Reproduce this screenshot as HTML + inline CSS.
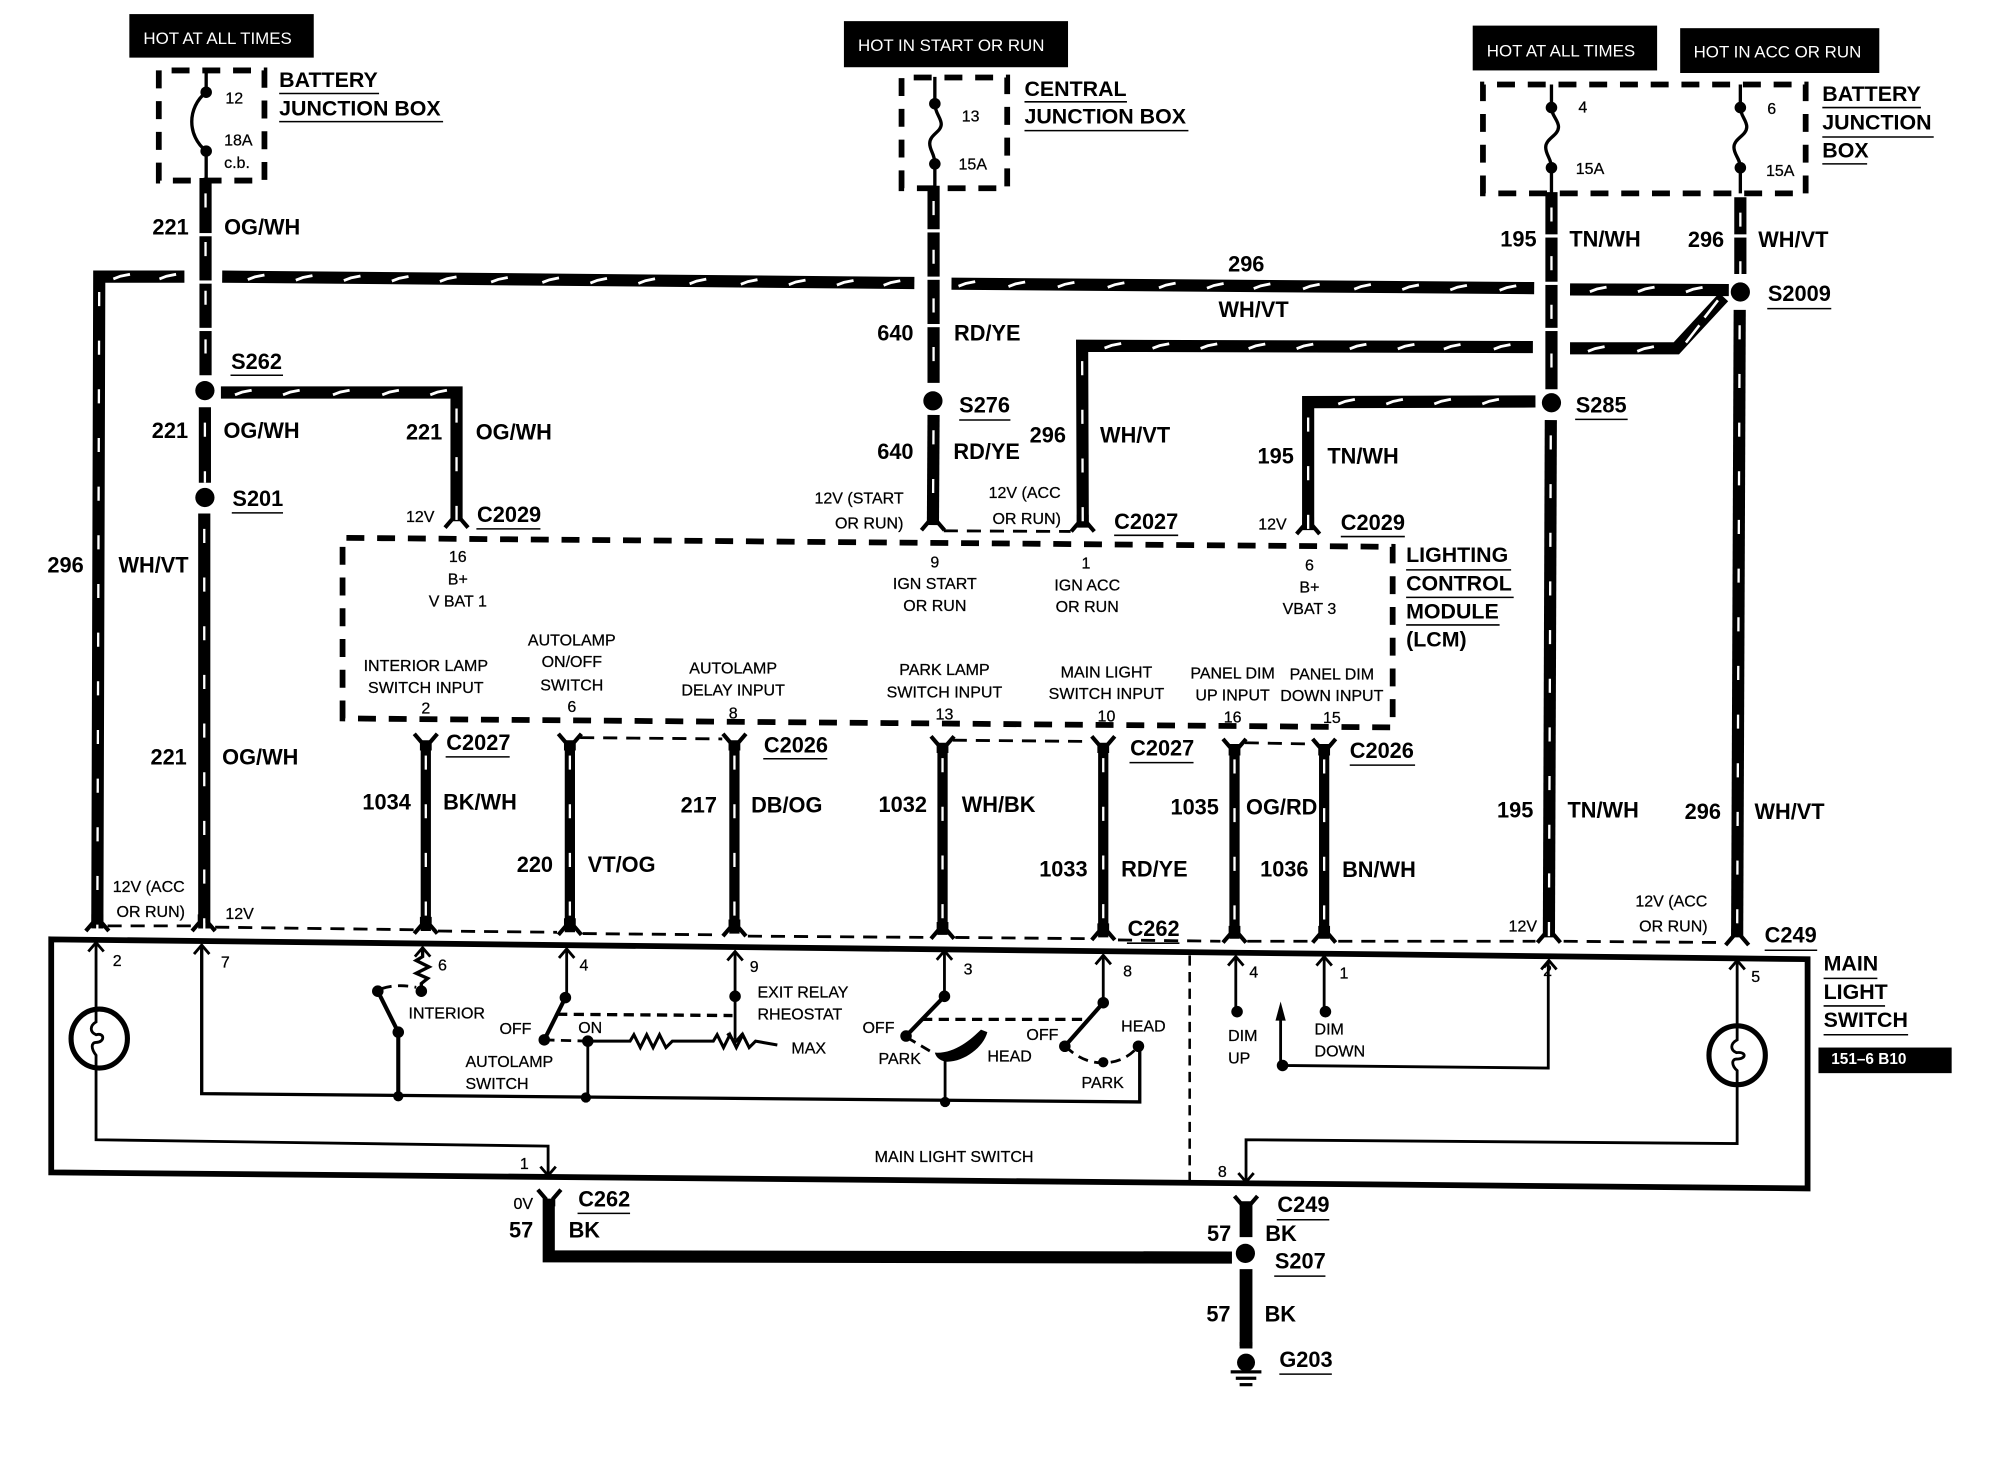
<!DOCTYPE html>
<html><head><meta charset="utf-8"><title>Main Light Switch Wiring Diagram</title>
<style>
html,body{margin:0;padding:0;background:#fff}
svg{display:block}
text{font-family:"Liberation Sans",sans-serif;fill:#000}
.b{font-size:17px;font-weight:bold}
.j{font-size:16.7px;font-weight:bold}
.s{font-size:12.5px;stroke:#000;stroke-width:.2}
.c{text-anchor:middle}
.h{font-size:13.2px;fill:#fff}
.w{fill:none;stroke:#000;stroke-width:9.5;stroke-linejoin:miter}
.n{fill:none;stroke:#000;stroke-width:8}
.t{fill:none;stroke:#fff;stroke-width:1.8;stroke-dasharray:11 27;stroke-dashoffset:-12}
.u{stroke:#000;stroke-width:1.2;fill:none}
.d{fill:none;stroke:#000;stroke-width:4.5;stroke-dasharray:14 10}
.dc{fill:none;stroke:#000;stroke-width:2.2;stroke-dasharray:11 7}
.i{fill:none;stroke:#000;stroke-width:2.2}
.id{fill:none;stroke:#000;stroke-width:2.2;stroke-dasharray:8 5}
.f{fill:none;stroke:#000;stroke-width:3.2}
</style></head><body>
<svg xmlns="http://www.w3.org/2000/svg" width="2008" height="1472" viewBox="0 0 1568 1149.45">
<defs>
<path id="fd" d="M-9 5 L-3 -2 L-3 -8 M9 5 L3 -2 L3 -8" class="f"/>
<path id="fu" d="M-9 -5 L-3 2 L-3 8 M9 -5 L3 2 L3 8" class="f"/>
<path id="au" d="M-6 7 L0 0 L6 7" class="f" style="stroke-width:2.2"/>
<path id="ad" d="M-6 -7 L0 0 L6 -7" class="f" style="stroke-width:2.2"/>
<path id="k" d="M-6.500 1.800 L-1 -.3 L6.500 -1.800" fill="none" stroke="#fff" stroke-width="2.200"/>
</defs>
<rect width="1568" height="1149.45" fill="#fff"/>

<!-- black tags -->
<rect x="101" y="11" width="144" height="34"/>
<rect x="659" y="16.5" width="175" height="36"/>
<rect x="1150" y="20" width="144" height="35"/>
<rect x="1312" y="22" width="155.500" height="35"/>
<rect x="1420" y="818" width="104" height="20"/>
<text class="h" x="112" y="34.500">HOT AT ALL TIMES</text>
<text class="h" x="670" y="40">HOT IN START OR RUN</text>
<text class="h" x="1161" y="44">HOT AT ALL TIMES</text>
<text class="h" x="1322.500" y="45">HOT IN ACC OR RUN</text>
<text x="1430" y="831" style="font-size:12px;font-weight:bold;fill:#fff">151–6 B10</text>

<!-- fuse boxes -->
<path class="d" d="M124 141 V55 H206.500 V141 Z"/>
<path class="d" d="M704 147 V60.500 H786.500 V147 Z"/>
<path class="d" d="M1158 151 V66 H1410 V151 Z"/>
<!-- fuse elements -->
<path class="i" style="stroke-width:2.600" d="M161 55 V72 C146 84 146 106 161 118 V141"/>
<circle cx="161" cy="72" r="4.500"/><circle cx="161" cy="118" r="4.500"/>
<path class="i" style="stroke-width:2.600" d="M730 60 V81 C730 88 735 92 735 97 C735 103 726 105 726 112 C726 118 730 120 730 128 V147"/>
<circle cx="730" cy="81" r="4.500"/><circle cx="730" cy="128" r="4.500"/>
<path class="i" style="stroke-width:2.600" d="M1211.500 66 V84 C1211.500 90 1217 94 1217 99 C1217 106 1207 108 1207 115 C1207 121 1211.500 124 1211.500 131 V151"/>
<circle cx="1211.500" cy="84" r="4.500"/><circle cx="1211.500" cy="131" r="4.500"/>
<path class="i" style="stroke-width:2.600" d="M1359 66 V84 C1359 90 1364 94 1364 99 C1364 106 1354 108 1354 115 C1354 121 1359 124 1359 131 V151"/>
<circle cx="1359" cy="84" r="4.500"/><circle cx="1359" cy="131" r="4.500"/>

<!-- wires -->
<g>
<path class="w" d="M160.500 139 V293"/><path class="t" d="M160.500 139 V293"/>
<path class="w" d="M160 318 V377"/><path class="t" d="M160 318 V377"/>
<path class="w" d="M159.500 401 V725"/><path class="t" d="M159.500 401 V725"/>
<path class="w" d="M144 216 H77.500 L76 725"/><path class="t" d="M77.500 216 L76 725"/>
<path class="w" d="M173.500 216 L714 221"/>
<path class="w" d="M743 221.500 L1198 225"/>
<path class="w" d="M1226 226 L1350 226.500"/>
<path class="w" d="M1226 272 H1309 L1346 232"/>
<path fill="none" stroke="#fff" stroke-width="2" d="M1316.500 267.500 L1327 254 M1331 248 L1341.500 234.500"/>
<path class="w" d="M1197 271 L845 270 L845.500 412"/><path class="t" d="M845 270 L845.500 412"/>
<path class="w" d="M1211.500 150 V304"/><path class="t" d="M1211.500 150 V304"/>
<path class="w" d="M1211 328 L1209.500 732"/><path class="t" d="M1211 328 L1209.500 732"/>
<path class="w" d="M1199 313.500 L1021.500 314 V414"/><path class="t" d="M1021.500 314 V414"/>
<path class="w" d="M1359 154 V214"/><path class="t" d="M1359 154 V214"/>
<path class="w" d="M1358.500 242 L1356.500 732"/><path class="t" d="M1358.500 242 L1356.500 732"/>
<path class="w" d="M729 145 V299"/><path class="t" d="M729 145 V299"/>
<path class="w" d="M729 324 L728.500 410"/><path class="t" d="M729 324 L728.500 410"/>
<path class="w" d="M172.500 306.500 H356.500 V407"/><path class="t" d="M356.500 307 V407"/>
<path class="n" d="M332.500 578 V727"/><path class="t" d="M332.500 578 V727"/>
<path class="n" d="M445 578 V728"/><path class="t" d="M445 578 V728"/>
<path class="n" d="M573.500 578 V729"/><path class="t" d="M573.500 578 V729"/>
<path class="n" d="M736 580 V730"/><path class="t" d="M736 580 V730"/>
<path class="n" d="M861.500 580 V732"/><path class="t" d="M861.500 580 V732"/>
<path class="n" d="M964 581 V733"/><path class="t" d="M964 581 V733"/>
<path class="n" d="M1034 581 V733"/><path class="t" d="M1034 581 V733"/>
<!-- horizontal wire ticks -->
<use href="#k" x="95" y="216"/><use href="#k" x="131" y="216"/>
<use href="#k" x="200" y="216.500"/><use href="#k" x="237.500" y="217"/><use href="#k" x="275" y="217.300"/><use href="#k" x="312.500" y="217.700"/><use href="#k" x="350" y="218"/><use href="#k" x="390" y="218.500"/><use href="#k" x="430" y="218.800"/><use href="#k" x="467.500" y="219.200"/><use href="#k" x="505" y="219.500"/><use href="#k" x="545" y="219.800"/><use href="#k" x="585" y="220.200"/><use href="#k" x="622.500" y="220.500"/><use href="#k" x="660" y="220.800"/><use href="#k" x="696.500" y="221"/>
<use href="#k" x="755" y="221.700"/><use href="#k" x="794" y="222"/><use href="#k" x="832.500" y="222.300"/><use href="#k" x="871.500" y="222.600"/><use href="#k" x="911.500" y="222.900"/><use href="#k" x="949" y="223.200"/><use href="#k" x="985.500" y="223.500"/><use href="#k" x="1024" y="223.800"/><use href="#k" x="1064" y="224"/><use href="#k" x="1101.500" y="224.300"/><use href="#k" x="1139" y="224.600"/><use href="#k" x="1177.500" y="224.900"/>
<use href="#k" x="1248" y="226"/><use href="#k" x="1285.500" y="226"/><use href="#k" x="1323" y="226.200"/>
<use href="#k" x="1246.500" y="272.500"/><use href="#k" x="1285" y="272.500"/>
<use href="#k" x="869" y="270"/><use href="#k" x="906.500" y="270.200"/><use href="#k" x="944" y="270.300"/><use href="#k" x="981.500" y="270.400"/><use href="#k" x="1019" y="270.500"/><use href="#k" x="1060.500" y="270.600"/><use href="#k" x="1098" y="270.700"/><use href="#k" x="1134" y="270.800"/><use href="#k" x="1173" y="270.900"/>
<use href="#k" x="1051.500" y="313.700"/><use href="#k" x="1089" y="313.700"/><use href="#k" x="1126.500" y="313.600"/><use href="#k" x="1164" y="313.600"/>
<use href="#k" x="190" y="306.500"/><use href="#k" x="227.500" y="306.500"/><use href="#k" x="266.500" y="306.500"/><use href="#k" x="305" y="306.500"/><use href="#k" x="342.500" y="306.500"/>
<!-- crossing gaps -->
<g fill="#fff">
<rect x="154" y="182" width="14" height="2.500"/><rect x="154" y="219" width="14" height="2.500"/><rect x="154" y="256" width="14" height="2.500"/>
<rect x="723" y="179" width="14" height="2.500"/><rect x="723" y="216" width="14" height="2.500"/><rect x="723" y="253" width="14" height="2.500"/>
<rect x="1205" y="183" width="14" height="2.500"/><rect x="1205" y="220" width="14" height="2.500"/><rect x="1205" y="256" width="14" height="2.500"/>
<rect x="1352" y="183" width="14" height="2.500"/>
</g>
<!-- ground and black wires -->
<path class="w" d="M428.500 936 V981 L962 982"/>
<path class="w" style="stroke-width:10" d="M973 938 V966"/>
<path class="w" style="stroke-width:10" d="M973 991 V1051"/>
</g>

<!-- splices -->
<g>
<ellipse cx="160" cy="305" rx="7.500" ry="7.500"/>
<ellipse cx="160" cy="388.500" rx="7.500" ry="7.500"/>
<ellipse cx="728.500" cy="313" rx="7.500" ry="7.500"/>
<ellipse cx="1211.500" cy="314.500" rx="7.500" ry="7.500"/>
<ellipse cx="1359" cy="228" rx="7.500" ry="7.500"/>
<ellipse cx="972.500" cy="978.700" rx="7.500" ry="7.500"/>
</g>

<!-- connector forks -->
<use href="#fd" x="76" y="722"/><use href="#fd" x="159" y="722"/>
<use href="#fd" x="332.500" y="724"/><use href="#fd" x="445" y="725"/><use href="#fd" x="573.500" y="726"/>
<use href="#fd" x="736" y="728"/><use href="#fd" x="861.500" y="729"/><use href="#fd" x="964" y="731"/><use href="#fd" x="1034" y="731"/>
<use href="#fd" x="1209.500" y="731"/><use href="#fd" x="1356.500" y="733"/>
<use href="#fd" x="356.500" y="407"/><use href="#fd" x="728.500" y="409"/><use href="#fd" x="845.500" y="410"/><use href="#fd" x="1021.500" y="412"/>
<use href="#fu" x="332.500" y="578"/><use href="#fu" x="445" y="578"/><use href="#fu" x="573.500" y="578"/><use href="#fu" x="736" y="580"/>
<use href="#fu" x="861.500" y="580"/><use href="#fu" x="964" y="582"/><use href="#fu" x="1034" y="582"/>
<use href="#fu" x="429" y="934"/><use href="#fu" x="973" y="939"/>

<!-- connector shells -->
<path class="dc" d="M84 723 L151 723 M168 724 L323 726 M342 727 L435 728 M455 729 L563 730 M584 731 L726 732 M746 732 L851 733 M873 734 L953 735 M974 735 L1023 735 M1045 735 L1199 735 M1221 735 L1347 736"/>
<path class="dc" d="M453 576 L564 577 M744 578 L852 579 M972 580 L1025 581 M737 414.500 L836 415"/>

<!-- LCM box -->
<path class="d" d="M267.500 561 V420 L1087.500 427 V568 Z"/>

<!-- main frame -->
<path fill="none" stroke="#000" stroke-width="4.500" d="M40 733.500 L1411.500 749 V928 L40 915.500 Z"/>
<path class="id" style="stroke-width:2" d="M929 746 V924"/>

<!-- internal left lamp -->
<use href="#au" x="75" y="736"/>
<path class="i" d="M75 736 V798 C70 801 70 806 75 808 C82 806 82 814 75 814 C71 814 71 819 75 824 V890 L428 895 V917"/>
<use href="#ad" x="428" y="918"/>
<ellipse cx="77.500" cy="811" rx="22" ry="23" fill="none" stroke="#000" stroke-width="4"/>
<!-- pin 7 bus -->
<use href="#au" x="157.500" y="738"/>
<path class="i" style="stroke-width:2.600" d="M157.500 738 V854 L890 860.500 V817"/>
<!-- interior -->
<use href="#au" x="330" y="740"/>
<path class="i" style="stroke-width:2.600" d="M330 740 V747 L325 750 L335 755 L325 760 L334 764 L329 768 V774"/>
<circle cx="329" cy="774" r="4.500"/><circle cx="295" cy="774" r="4.500"/><circle cx="311" cy="806" r="4.500"/><circle cx="311" cy="856" r="4"/>
<path class="id" d="M298 772 Q310 768 325 771"/>
<path class="i" style="stroke-width:3.200" d="M295 774 L311 806 V856"/>
<!-- autolamp -->
<use href="#au" x="442.500" y="741"/>
<path class="i" d="M442.500 741 V779"/>
<circle cx="441.500" cy="779" r="4.500"/><circle cx="425" cy="812" r="4.500"/><circle cx="459" cy="813" r="4.500"/><circle cx="457.500" cy="857" r="4"/>
<path class="i" style="stroke-width:3.200" d="M441.500 779 L425 812"/>
<path class="id" style="stroke-width:2.600" d="M435 792 L572 793"/>
<path class="id" d="M425 812 L459 813"/>
<path class="i" d="M459 813 V857"/>
<path class="i" style="stroke-width:2.400" d="M459 813 H492 L495 808 L500 818 L505 808 L510 818 L515 808 L520 818 L525 813 H557 L560 808 L565 818 L570 808 L575 818 L580 808 L585 818 L590 813 L607 816"/>
<!-- rheostat -->
<use href="#au" x="574" y="743"/>
<path class="i" d="M574 743 V812"/>
<circle cx="574" cy="778" r="4.500"/>
<use href="#ad" x="574" y="814"/>
<!-- headlamp switch -->
<use href="#au" x="737.500" y="742.500"/>
<path class="i" d="M737.500 742.500 V778"/>
<circle cx="737.500" cy="778" r="4.500"/><circle cx="707.500" cy="809" r="4.500"/>
<path class="i" style="stroke-width:3.200" d="M737.500 778 L707.500 809"/>
<path class="id" style="stroke-width:2.600" d="M720 796 L849 796"/>
<path class="id" d="M708 810 L730 823"/>
<path d="M730 822 C745 823 758 812 766 804 L771 806 C768 818 752 830 738 829 C734 828 731 826 730 822 Z"/>
<path class="i" d="M738 826 V860"/>
<circle cx="738" cy="860.500" r="4"/>
<use href="#au" x="861.500" y="746"/>
<path class="i" d="M861.500 746 V783"/>
<circle cx="861.500" cy="783" r="4.500"/><circle cx="831.500" cy="817" r="4.500"/><circle cx="861.500" cy="829.500" r="4"/><circle cx="889" cy="817" r="4.500"/>
<path class="i" style="stroke-width:3.200" d="M861.500 783 L831.500 817"/>
<path class="id" d="M832 817 Q845 830 861 830 Q878 830 889 817"/>
<!-- dim -->
<use href="#au" x="965" y="747"/>
<path class="i" d="M965 747 V790"/><circle cx="966" cy="790" r="4.500"/>
<use href="#au" x="1034" y="747"/>
<path class="i" d="M1034 747 V790"/><circle cx="1035" cy="790" r="4.500"/>
<path d="M1000 782 L996 797 H1004 Z"/>
<path class="i" d="M1000 795 V832 L1209 834 V750"/>
<circle cx="1001.500" cy="832" r="4.500"/>
<use href="#au" x="1209.500" y="750"/>
<!-- right lamp -->
<use href="#au" x="1356.500" y="750"/>
<path class="i" d="M1356.500 750 V812 C1351 815 1351 820 1356 822 C1364 821 1364 827 1356 827 C1352 827 1352 832 1356.500 836 V893 L973 890 V922"/>
<use href="#ad" x="973" y="923"/>
<ellipse cx="1356.500" cy="824" rx="22" ry="23" fill="none" stroke="#000" stroke-width="4"/>

<!-- ground -->
<rect x="968" y="1048" width="10" height="5"/>
<circle cx="973" cy="1064" r="7"/>
<rect x="961" y="1070" width="24" height="2.500"/><rect x="965" y="1075" width="16" height="2.500"/><rect x="968" y="1080" width="10" height="2.500"/>

<!-- underlines -->
<g class="u">
<path d="M218 73H296M218 95H346M800 79.500H880M800 102H928M1423 84H1500M1423 107H1510M1423 128H1458"/>
<path d="M180 293H221M181 400.500H221M749 328H789M1230 327.500H1271M1380 241H1430"/>
<path d="M372 413H422M870 418H920M1047 419H1097M1098 445H1180M1098 466.500H1182M1098 488H1171"/>
<path d="M348 591H398M596 592.500H646M882 595.500H932M1054 597.500H1105M880 736.500H921M1378 742H1419"/>
<path d="M1424 764H1466M1424 785.500H1472M1424 808H1490M451 947.500H492M997 952.500H1038M995 996.500H1035M999 1073H1040"/>
</g>

<!-- big labels -->
<text class="j" x="218" y="68">BATTERY</text><text class="j" x="218" y="90">JUNCTION BOX</text>
<text class="j" x="800" y="75">CENTRAL</text><text class="j" x="800" y="96.500">JUNCTION BOX</text>
<text class="j" x="1423" y="79">BATTERY</text><text class="j" x="1423" y="101">JUNCTION</text><text class="j" x="1423" y="123">BOX</text>
<text class="s" x="176" y="81">12</text><text class="s" x="175" y="113.500">18A</text><text class="s" x="175" y="131">c.b.</text>
<text class="s" x="751" y="95">13</text><text class="s" x="748.500" y="132.500">15A</text>
<text class="s" x="1232.500" y="88">4</text><text class="s" x="1230.500" y="136">15A</text>
<text class="s" x="1380" y="89">6</text><text class="s" x="1379" y="137.500">15A</text>

<text class="b" x="119" y="183">221</text><text class="b" x="175" y="183">OG/WH</text>
<text class="b" x="959" y="212">296</text><text class="b" x="951.500" y="247.500">WH/VT</text>
<text class="b" x="685" y="266">640</text><text class="b" x="745" y="266">RD/YE</text>
<text class="b" x="180.500" y="288">S262</text>
<text class="b" x="118.500" y="342">221</text><text class="b" x="174.500" y="342">OG/WH</text>
<text class="b" x="317" y="343">221</text><text class="b" x="371.500" y="343">OG/WH</text>
<text class="b" x="181.500" y="395">S201</text>
<text class="b" x="37" y="447">296</text><text class="b" x="92.500" y="447">WH/VT</text>
<text class="b" x="749" y="322">S276</text>
<text class="b" x="685" y="358.500">640</text><text class="b" x="744.500" y="358.500">RD/YE</text>
<text class="b" x="804" y="345.500">296</text><text class="b" x="859" y="345.500">WH/VT</text>
<text class="b" x="982" y="362">195</text><text class="b" x="1036.500" y="362">TN/WH</text>
<text class="b" x="1230.500" y="322">S285</text>
<text class="b" x="1380.500" y="235">S2009</text>
<text class="b" x="1171.500" y="192.500">195</text><text class="b" x="1225.500" y="192.500">TN/WH</text>
<text class="b" x="1318" y="193">296</text><text class="b" x="1373" y="193">WH/VT</text>

<text class="s" x="636" y="393">12V (START</text><text class="s" x="652" y="412.500">OR RUN)</text>
<text class="s" x="772" y="389">12V (ACC</text><text class="s" x="775" y="409">OR RUN)</text>
<text class="s" x="317" y="407.500">12V</text><text class="b" x="372.500" y="407.500">C2029</text>
<text class="b" x="870" y="413">C2027</text>
<text class="s" x="982.500" y="413.500">12V</text><text class="b" x="1047" y="414">C2029</text>
<text class="j" x="1098" y="439">LIGHTING</text><text class="j" x="1098" y="461">CONTROL</text><text class="j" x="1098" y="483">MODULE</text><text class="j" x="1098" y="505">(LCM)</text>

<!-- LCM interior -->
<g class="s">
<text class="s c" x="357.500" y="439">16</text><text class="s c" x="357.500" y="456.500">B+</text><text class="s c" x="357.500" y="473.500">V BAT 1</text>
<text class="s c" x="730" y="443">9</text><text class="s c" x="730" y="460">IGN START</text><text class="s c" x="730" y="477">OR RUN</text>
<text class="s c" x="848" y="444">1</text><text class="s c" x="849" y="461">IGN ACC</text><text class="s c" x="849" y="478">OR RUN</text>
<text class="s c" x="1022.500" y="445.500">6</text><text class="s c" x="1022.500" y="462.500">B+</text><text class="s c" x="1022.500" y="479.500">VBAT 3</text>
<text class="s c" x="332.500" y="524">INTERIOR LAMP</text><text class="s c" x="332.500" y="541">SWITCH INPUT</text><text class="s c" x="332.500" y="557">2</text>
<text class="s c" x="446.500" y="504">AUTOLAMP</text><text class="s c" x="446.500" y="521">ON/OFF</text><text class="s c" x="446.500" y="539">SWITCH</text><text class="s c" x="446.500" y="556">6</text>
<text class="s c" x="572.500" y="526">AUTOLAMP</text><text class="s c" x="572.500" y="543">DELAY INPUT</text><text class="s c" x="572.500" y="561">8</text>
<text class="s c" x="737.500" y="527">PARK LAMP</text><text class="s c" x="737.500" y="544.500">SWITCH INPUT</text><text class="s c" x="737.500" y="562">13</text>
<text class="s c" x="864" y="529">MAIN LIGHT</text><text class="s c" x="864" y="546">SWITCH INPUT</text><text class="s c" x="864" y="563.500">10</text>
<text class="s c" x="962.500" y="530">PANEL DIM</text><text class="s c" x="962.500" y="547">UP INPUT</text><text class="s c" x="962.500" y="564">16</text>
<text class="s c" x="1040" y="530.500">PANEL DIM</text><text class="s c" x="1040" y="547.500">DOWN INPUT</text><text class="s c" x="1040" y="564.500">15</text>
</g>

<!-- lower wire labels -->
<text class="b" x="117.500" y="597">221</text><text class="b" x="173.500" y="597">OG/WH</text>
<text class="b" x="348.500" y="585.500">C2027</text><text class="b" x="596.500" y="587.500">C2026</text>
<text class="b" x="283" y="632">1034</text><text class="b" x="346" y="632">BK/WH</text>
<text class="b" x="531.500" y="634.500">217</text><text class="b" x="586.500" y="634.500">DB/OG</text>
<text class="b" x="686" y="634">1032</text><text class="b" x="751" y="634">WH/BK</text>
<text class="b" x="403.500" y="681">220</text><text class="b" x="459" y="681">VT/OG</text>
<text class="b" x="882.500" y="590">C2027</text><text class="b" x="1054" y="592">C2026</text>
<text class="b" x="914" y="636">1035</text><text class="b" x="973" y="636">OG/RD</text>
<text class="b" x="811.500" y="684.500">1033</text><text class="b" x="875.500" y="684.500">RD/YE</text>
<text class="b" x="984" y="684.500">1036</text><text class="b" x="1048" y="685">BN/WH</text>
<text class="b" x="1169" y="638.500">195</text><text class="b" x="1224" y="638.500">TN/WH</text>
<text class="b" x="1315.500" y="639.500">296</text><text class="b" x="1370" y="639.500">WH/VT</text>
<text class="s" x="88" y="696.500">12V (ACC</text><text class="s" x="91" y="716">OR RUN)</text>
<text class="s" x="176" y="717.500">12V</text><text class="s" x="1178" y="727.500">12V</text>
<text class="s" x="1277" y="708">12V (ACC</text><text class="s" x="1280" y="727.500">OR RUN)</text>
<text class="b" x="880.500" y="731">C262</text><text class="b" x="1378" y="736">C249</text>
<text class="j" x="1424" y="758">MAIN</text><text class="j" x="1424" y="780">LIGHT</text><text class="j" x="1424" y="802">SWITCH</text>

<!-- switch labels -->
<text class="s" x="88" y="754.500">2</text><text class="s" x="172.500" y="755.500">7</text><text class="s" x="342" y="758">6</text><text class="s" x="452.500" y="758">4</text>
<text class="s" x="585.500" y="759">9</text><text class="s" x="752.500" y="761">3</text><text class="s" x="877" y="762.500">8</text><text class="s" x="975.500" y="763.500">4</text>
<text class="s" x="1046" y="764">1</text><text class="s" x="1205" y="762">2</text><text class="s" x="1367.500" y="767">5</text>
<text class="s" x="319" y="795.500">INTERIOR</text><text class="s" x="390" y="807.500">OFF</text><text class="s" x="451.500" y="806.500">ON</text>
<text class="s" x="591.500" y="779">EXIT RELAY</text><text class="s" x="591.500" y="796">RHEOSTAT</text><text class="s" x="618" y="822.500">MAX</text>
<text class="s" x="363.500" y="833">AUTOLAMP</text><text class="s" x="363.500" y="850.500">SWITCH</text>
<text class="s" x="673.500" y="806.500">OFF</text><text class="s" x="686" y="831">PARK</text><text class="s" x="771" y="829">HEAD</text>
<text class="s" x="801.500" y="812">OFF</text><text class="s" x="875.500" y="805.500">HEAD</text><text class="s" x="844.500" y="849.500">PARK</text>
<text class="s" x="959" y="813">DIM</text><text class="s" x="959" y="830.500">UP</text>
<text class="s" x="1026.500" y="808">DIM</text><text class="s" x="1026.500" y="825">DOWN</text>
<text class="s" x="683" y="907.500">MAIN LIGHT SWITCH</text>
<text class="s" x="406" y="913">1</text><text class="s" x="951" y="919">8</text>

<!-- bottom labels -->
<text class="s" x="401" y="944">0V</text><text class="b" x="451.500" y="942">C262</text>
<text class="b" x="397.500" y="966.500">57</text><text class="b" x="444" y="966.500">BK</text>
<text class="b" x="997.500" y="946.500">C249</text>
<text class="b" x="942.500" y="969">57</text><text class="b" x="988" y="969">BK</text>
<text class="b" x="995.500" y="990.500">S207</text>
<text class="b" x="942" y="1032">57</text><text class="b" x="987.500" y="1032">BK</text>
<text class="b" x="999" y="1067.500">G203</text>
</svg>
</body></html>
